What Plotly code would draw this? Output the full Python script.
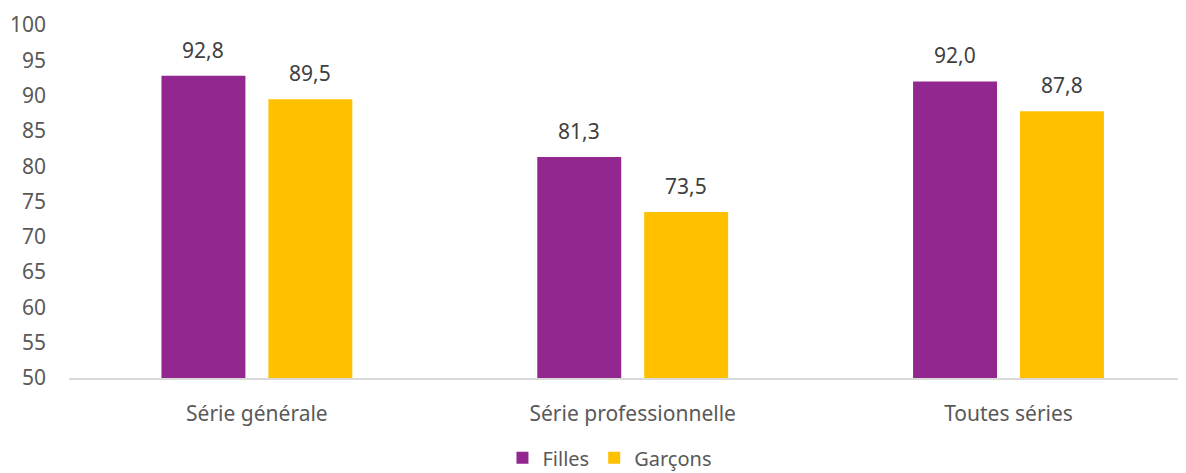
import plotly.graph_objects as go

categories = ["Série générale", "Série professionnelle", "Toutes séries"]
filles = [92.8, 81.3, 92.0]
garcons = [89.5, 73.5, 87.8]
filles_labels = ["92,8", "81,3", "92,0"]
garcons_labels = ["89,5", "73,5", "87,8"]
y_ticks = [50, 55, 60, 65, 70, 75, 80, 85, 90, 95, 100]

PURPLE = "#92278F"
YELLOW = "#FFC000"
FONT = "Noto Sans"
FS = 21

fig = go.Figure()
fig.add_trace(go.Bar(name="Filles", x=categories, y=filles, marker_color=PURPLE,
                     marker_line_width=0))
fig.add_trace(go.Bar(name="Garçons", x=categories, y=garcons, marker_color=YELLOW,
                     marker_line_width=0))

annotations = []
for cat, v, t in zip(categories, filles, filles_labels):
    annotations.append(dict(x=cat, y=v, text=t, xref="x", yref="y", showarrow=False,
                            xshift=-53.5, yshift=26, font=dict(family=FONT, size=FS, color="#404040")))
for cat, v, t in zip(categories, garcons, garcons_labels):
    annotations.append(dict(x=cat, y=v, text=t, xref="x", yref="y", showarrow=False,
                            xshift=53.5, yshift=26, font=dict(family=FONT, size=FS, color="#404040")))

fig.update_layout(
    width=1178, height=465,
    margin=dict(l=61, r=2, t=17, b=95, autoexpand=False),
    paper_bgcolor="white", plot_bgcolor="white",
    barmode="group", bargap=0.431, bargroupgap=0.215,
    font=dict(family=FONT, size=FS, color="#595959"),
    annotations=annotations,
    showlegend=True,
    legend=dict(orientation="h", xref="container", x=0.511, xanchor="center",
                yref="paper", y=-0.226, yanchor="middle",
                font=dict(family=FONT, size=20, color="#595959"),
                itemwidth=30, traceorder="normal"),
    xaxis=dict(range=[-0.5, 2.467], showline=True, linecolor="#D9D9D9", linewidth=2,
               showgrid=False, ticks="", ticklabelstandoff=16, automargin=False,
               tickfont=dict(family=FONT, size=FS, color="#595959")),
    yaxis=dict(range=[50, 100], tickvals=y_ticks, showgrid=False, zeroline=False,
               showline=False, ticks="", ticklabelstandoff=22, automargin=False,
               tickfont=dict(family=FONT, size=FS, color="#595959")),
)

fig.write_html("out.html")
